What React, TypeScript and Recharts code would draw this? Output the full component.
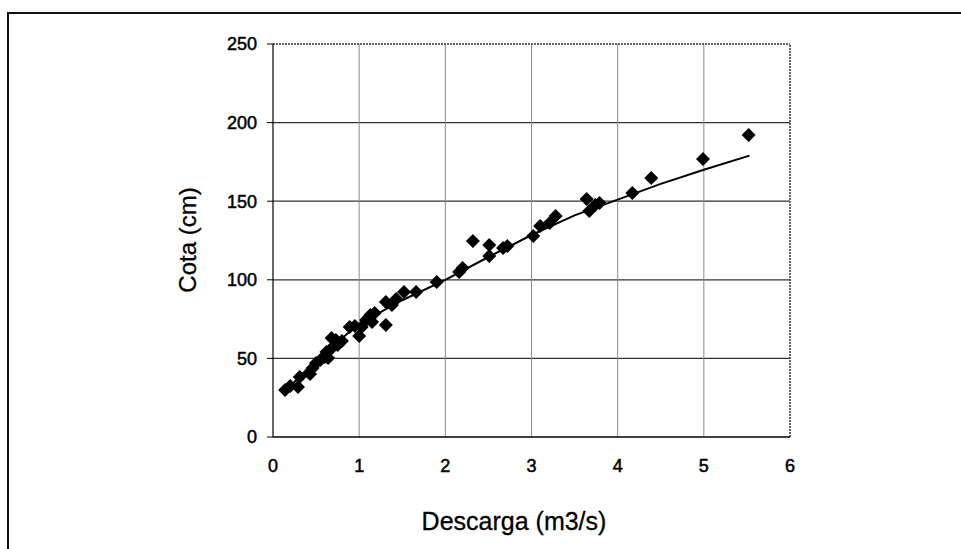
import React from 'react';
import { ScatterChart, Scatter, XAxis, YAxis, CartesianGrid, ReferenceLine, Label } from 'recharts';

const discharge = [0.14, 0.2, 0.29, 0.31, 0.43, 0.46, 0.5, 0.55, 0.6, 0.62, 0.64, 0.66, 0.68, 0.73, 0.75, 0.8, 0.89, 0.95, 1.0, 1.03, 1.08, 1.13, 1.15, 1.18, 1.31, 1.31, 1.38, 1.43, 1.52, 1.66, 1.9, 2.16, 2.2, 2.32, 2.51, 2.51, 2.67, 2.72, 3.02, 3.1, 3.21, 3.28, 3.64, 3.67, 3.74, 3.79, 4.17, 4.39, 4.99, 5.52];
const stage = [29.9, 32.4, 31.8, 38.2, 40.1, 43.9, 47.1, 49.0, 50.9, 54.1, 50.3, 55.3, 63.0, 61.7, 58.5, 61.1, 70.0, 70.6, 64.2, 70.0, 74.4, 77.6, 73.2, 78.9, 71.2, 85.9, 84.0, 87.8, 92.2, 92.2, 98.6, 105.0, 107.5, 124.7, 122.1, 115.1, 120.2, 121.5, 127.9, 134.2, 136.1, 140.6, 151.4, 143.8, 147.6, 148.9, 155.2, 164.8, 176.8, 192.1];

const trendX = [0.13, 0.5, 1.0, 1.5, 2.0, 2.5, 3.0, 3.5, 4.0, 4.5, 5.0, 5.53];
const trendY = [28.5, 49, 72, 87, 100, 114.5, 128.5, 141, 151, 161, 170, 179];

const xTicks = [0, 1, 2, 3, 4, 5, 6];
const yTicks = [0, 50, 100, 150, 200, 250];
const xGrid = [1, 2, 3, 4, 5];
const yGrid = [50, 100, 150, 200];

const xTitle = 'Descarga (m3/s)';
const yTitle = 'Cota (cm)';

const points = discharge.map((x, i) => ({ x, y: stage[i] }));
const trend = trendX.map((x, i) => ({ x, y: trendY[i] }));

const FONT = '"Liberation Sans", Arial, Helvetica, sans-serif';

const Diamond = (props: any) => {
  const { cx, cy } = props;
  if (cx == null || cy == null) return null;
  const r = 7;
  return <polygon points={`${cx},${cy - r} ${cx + r},${cy} ${cx},${cy + r} ${cx - r},${cy}`} fill="#000" />;
};

const NoShape = () => null;

const tickStyle = { fontSize: 18, fill: '#000', fontFamily: FONT, stroke: '#000', strokeWidth: 0.5 };

export default function App() {
  return (
    <div style={{ position: 'fixed', left: 0, top: 0, width: 961, height: 549, background: '#fff', overflow: 'hidden' }}>
      <div style={{ position: 'absolute', left: 7, top: 12, width: 1000, height: 600, borderLeft: '2px solid #111', borderTop: '2px solid #111' }} />
      <div style={{ position: 'absolute', left: 0, top: 0 }}>
        <ScatterChart width={961} height={549} margin={{ top: 44, right: 171, bottom: 72, left: 0 }}>
          <CartesianGrid horizontal={true} vertical={false} horizontalValues={yGrid} stroke="#333" strokeWidth={1.2} />
          <CartesianGrid horizontal={false} vertical={true} verticalValues={xGrid} stroke="#8a8a8a" strokeWidth={1} />
          <XAxis
            type="number"
            dataKey="x"
            domain={[0, 6]}
            ticks={xTicks}
            height={40}
            tickLine={false}
            tickSize={0}
            tickMargin={22}
            axisLine={{ stroke: '#000', strokeWidth: 1.5 }}
            tick={tickStyle}
            allowDataOverflow
          >
            <Label
              content={() => (
                <text x={514} y={530} textAnchor="middle" fontSize={25} fontFamily={FONT} fill="#000" stroke="#000" strokeWidth={0.3}>
                  {xTitle}
                </text>
              )}
            />
          </XAxis>
          <YAxis
            type="number"
            dataKey="y"
            domain={[0, 250]}
            ticks={yTicks}
            width={273}
            tickSize={6}
            tickMargin={10}
            tickLine={{ stroke: '#000' }}
            axisLine={{ stroke: '#000', strokeWidth: 1.2 }}
            tick={tickStyle}
            allowDataOverflow
          >
            <Label
              content={() => (
                <text x={196} y={240} transform="rotate(-90 196 240)" textAnchor="middle" fontSize={24} fontFamily={FONT} fill="#000" stroke="#000" strokeWidth={0.3}>
                  {yTitle}
                </text>
              )}
            />
          </YAxis>
          <ReferenceLine y={250} stroke="#333" strokeWidth={1.5} strokeDasharray="2 1" />
          <ReferenceLine x={6} stroke="#333" strokeWidth={1.5} strokeDasharray="2 1" />
          <Scatter data={points} shape={<Diamond />} isAnimationActive={false} />
          <Scatter data={trend} line={{ stroke: '#000', strokeWidth: 2 }} shape={<NoShape />} isAnimationActive={false} />
        </ScatterChart>
      </div>
    </div>
  );
}
